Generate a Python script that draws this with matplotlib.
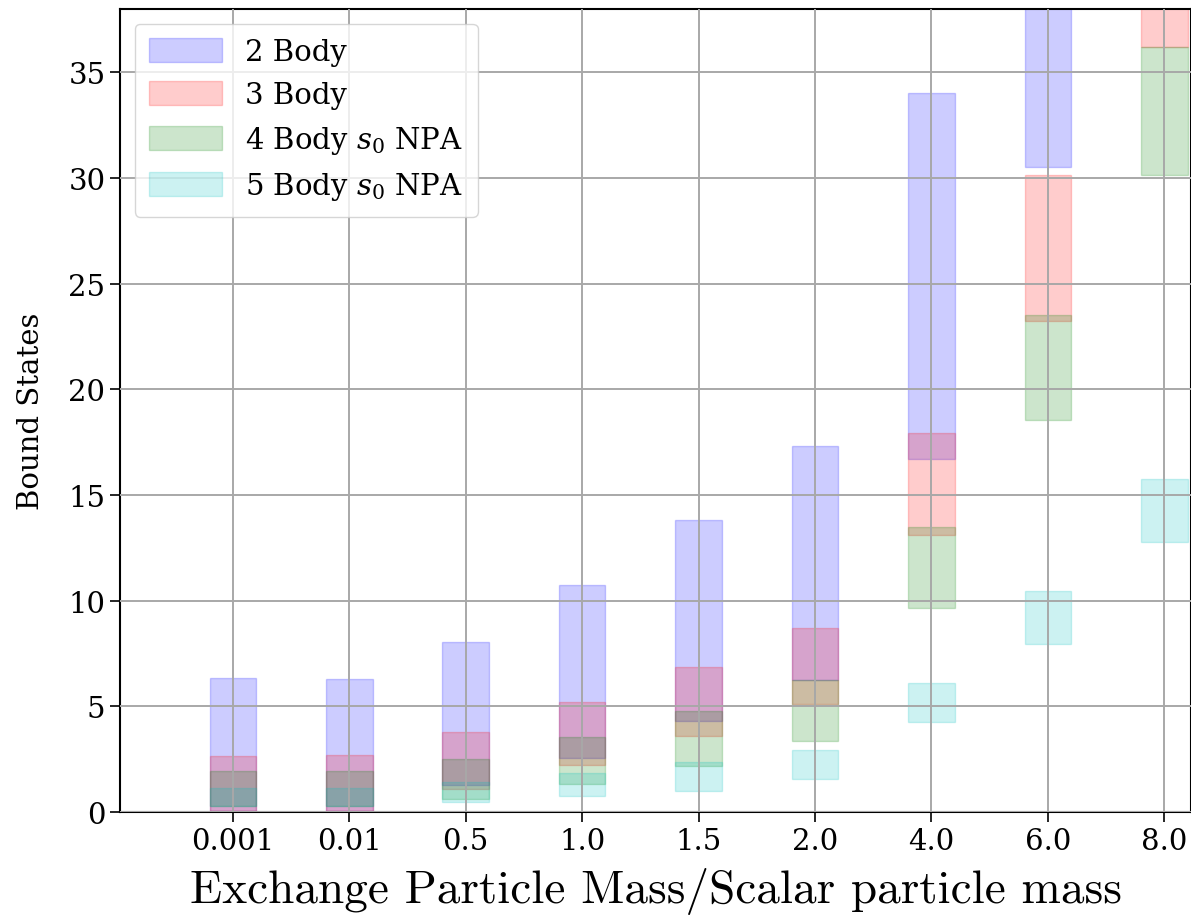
import numpy as np
import matplotlib
matplotlib.use("Agg")
import matplotlib.pyplot as plt

plt.rcParams['font.family'] = ['DejaVu Serif']
plt.rcParams['mathtext.fontset'] = 'dejavuserif'

# mass ratios on the x axis
categories = ['0.001', '0.01', '0.5', '1.0', '1.5', '2.0', '4.0', '6.0', '8.0']

# lower / upper bound-state estimates per system
two_lo = [0.05, 0.05, 1.30, 2.55, 4.32, 6.25, 16.70, 30.50, 44.0]
two_hi = [6.32, 6.30, 8.06, 10.76, 13.83, 17.33, 34.01, 48.0, 62.0]
three_lo = [0.05, 0.05, 1.10, 2.22, 3.61, 5.11, 13.11, 23.25, 36.19]
three_hi = [2.63, 2.71, 3.77, 5.19, 6.85, 8.69, 17.93, 30.13, 45.0]
four_lo = [0.30, 0.30, 0.60, 1.32, 2.19, 3.38, 9.65, 18.55, 30.13]
four_hi = [1.92, 1.92, 2.51, 3.53, 4.79, 6.25, 13.48, 23.50, 36.19]
five_lo = [0.30, 0.30, 0.45, 0.74, 1.01, 1.56, 4.25, 7.96, 12.79]
five_hi = [1.12, 1.12, 1.40, 1.83, 2.35, 2.93, 6.11, 10.44, 15.78]

series = [
    ('2 Body', two_lo, two_hi, 'b'),
    ('3 Body', three_lo, three_hi, 'r'),
    (r'4 Body $s_0$ NPA', four_lo, four_hi, 'g'),
    (r'5 Body $s_0$ NPA', five_lo, five_hi, 'c'),
]

fig = plt.figure(figsize=(11.91, 9.2), dpi=100)
ax = fig.add_axes([120 / 1191, 107 / 920, 1.0 - 120 / 1191, 803 / 920])

x = np.arange(len(categories))
for label, lo, hi, col in series:
    lo = np.array(lo)
    hi = np.array(hi)
    ax.bar(x, hi - lo, bottom=lo, width=0.4, color=col, alpha=0.2,
           edgecolor=col, linewidth=1.0, label=label)

ax.set_xticks(x)
ax.set_xticklabels(categories)
ax.set_xlim(-0.97, 8.23)
ax.set_ylim(0, 38)
ax.set_yticks(np.arange(0, 36, 5))
ax.grid(True, color='#a8a8a8', linewidth=1.4)
ax.set_axisbelow(False)
ax.tick_params(labelsize=21, length=7, width=1.2)
for s in ax.spines.values():
    s.set_linewidth(1.5)

ax.set_ylabel('Bound States', fontsize=21, labelpad=17)
ax.set_xlabel('Exchange Particle Mass/Scalar particle mass',
              fontsize=34, family='cmr10', labelpad=9)

ax.legend(loc='upper left', fontsize=21, handlelength=2.5, handleheight=0.9,
          borderpad=0.5, labelspacing=0.5, framealpha=0.8)

fig.savefig('out.png', dpi=100)
